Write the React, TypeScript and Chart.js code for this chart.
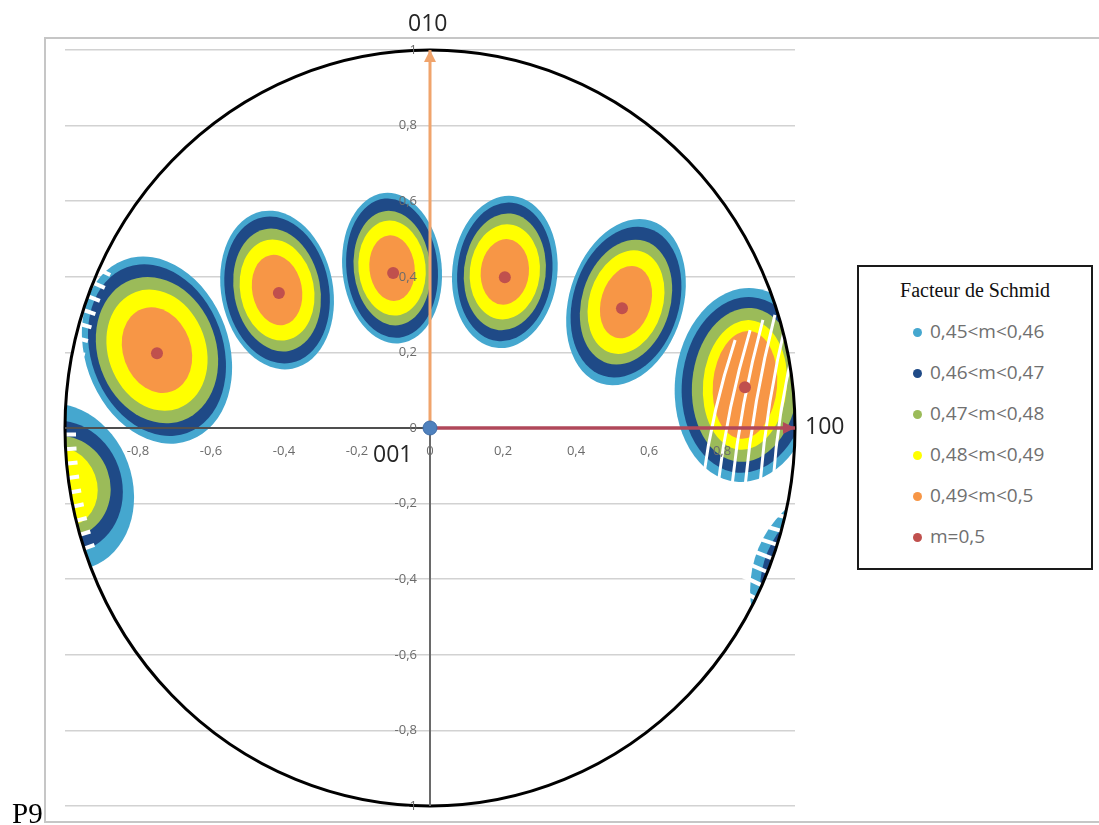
import React, { useEffect, useRef } from "react";
import { Chart, registerables } from "chart.js";

Chart.register(...registerables);

// ---- legend / contour levels ----
const levelLabels = ["0,45<m<0,46", "0,46<m<0,47", "0,47<m<0,48", "0,48<m<0,49", "0,49<m<0,5", "m=0,5"];
const levelColors = ["#45A7CF", "#1F4A87", "#9BBB59", "#FFFF00", "#F79646", "#C0504D"];

// ---- axis ----
const axisMin = -1;
const axisMax = 1;
const tickStep = 0.2;

// ---- pole contour centres (projection coordinates) ----
const poleCx = [-0.748, -0.419, -0.104, 0.205, 0.537, 0.863, -1.008, 1.178];
const poleCy = [0.206, 0.365, 0.423, 0.413, 0.333, 0.114, -0.156, -0.429];
const poleTiltDeg = [-20, -11, -6, 6, 17, 5, -20, 0];

// semi-axes (minor / major) of each contour level for each pole
const minor045 = [0.197, 0.153, 0.136, 0.144, 0.156, 0.192, 0.192, 0.301];
const major045 = [0.254, 0.212, 0.2, 0.202, 0.225, 0.257, 0.225, 0.291];
const minor046 = [0.181, 0.142, 0.125, 0.13, 0.145, 0.173, 0.164, 0.274];
const major046 = [0.233, 0.196, 0.185, 0.184, 0.204, 0.233, 0.178, 0.265];
const minor047 = [0.162, 0.118, 0.105, 0.112, 0.121, 0.145, 0.132, 0.247];
const major047 = [0.198, 0.164, 0.152, 0.155, 0.169, 0.204, 0.137, 0.238];
const minor048 = [0.134, 0.101, 0.092, 0.096, 0.101, 0.115, 0.096, 0.219];
const major048 = [0.164, 0.135, 0.126, 0.126, 0.14, 0.172, 0.106, 0.212];
const minor049 = [0.093, 0.068, 0.062, 0.066, 0.068, 0.088, 0.02, 0.192];
const major049 = [0.116, 0.094, 0.087, 0.087, 0.098, 0.143, 0.03, 0.185];

// maxima m = 0,5
const peakX = [-0.748, -0.414, -0.101, 0.205, 0.526, 0.863];
const peakY = [0.198, 0.357, 0.41, 0.399, 0.317, 0.108];

// sampling gaps in the pole near 100
const gapX1 = [0.836, 0.877, 0.912, 0.945, 0.978, 1.005];
const gapY1 = [0.233, 0.259, 0.286, 0.299, 0.291, 0.246];
const gapX2 = [0.748, 0.789, 0.827, 0.863, 0.904, 0.94];
const gapY2 = [-0.138, -0.151, -0.156, -0.156, -0.151, -0.143];

// sampling teeth along the projection circle (angles in degrees)
const teethFrom = [153, 181, -29];
const teethTo = [170, 199, -13];
const teethDepth = [0.035, 0.03, 0.06];

// direction arrows: [100], [010]
const dirX = [1, 0];
const dirY = [0, 1];
const dirColors = ["#B0485A", "#F0A46C"];

const fmt = (v: number) => String(Math.round(v * 10) / 10).replace(".", ",");

const polePlugin = {
  id: "poleFigure",
  beforeDatasetsDraw(chart: any) {
    const { ctx, scales } = chart;
    const xs = scales.x;
    const ys = scales.y;
    const ox = xs.getPixelForValue(0);
    const oy = ys.getPixelForValue(0);
    const ux = xs.getPixelForValue(1) - ox;
    const uy = oy - ys.getPixelForValue(1);
    const minors = [minor045, minor046, minor047, minor048, minor049];
    const majors = [major045, major046, major047, major048, major049];
    ctx.save();
    ctx.beginPath();
    ctx.ellipse(ox, oy, ux, uy, 0, 0, Math.PI * 2);
    ctx.clip();
    for (let p = 0; p < poleCx.length; p++) {
      const px = xs.getPixelForValue(poleCx[p]);
      const py = ys.getPixelForValue(poleCy[p]);
      for (let l = 0; l < 5; l++) {
        ctx.beginPath();
        ctx.ellipse(px, py, minors[l][p] * ux, majors[l][p] * uy, (poleTiltDeg[p] * Math.PI) / 180, 0, Math.PI * 2);
        ctx.fillStyle = levelColors[l];
        ctx.fill();
      }
    }
    ctx.strokeStyle = "#ffffff";
    ctx.lineWidth = 3;
    for (let i = 0; i < gapX1.length; i++) {
      const x1 = xs.getPixelForValue(gapX1[i]);
      const y1 = ys.getPixelForValue(gapY1[i]);
      const x2 = xs.getPixelForValue(gapX2[i]);
      const y2 = ys.getPixelForValue(gapY2[i]);
      ctx.beginPath();
      ctx.moveTo(x1, y1);
      ctx.quadraticCurveTo((x1 + x2) / 2 - 7, (y1 + y2) / 2, x2, y2);
      ctx.stroke();
    }
    ctx.lineWidth = 4;
    for (let r = 0; r < teethFrom.length; r++) {
      for (let a = teethFrom[r]; a <= teethTo[r]; a += 2.2) {
        const t = (a * Math.PI) / 180;
        const c = Math.cos(t);
        const s = Math.sin(t);
        const k = 1 - teethDepth[r];
        ctx.beginPath();
        ctx.moveTo(ox + ux * c * 1.01, oy - uy * s * 1.01);
        ctx.lineTo(ox + ux * c * k, oy - uy * s * k);
        ctx.stroke();
      }
    }
    ctx.restore();

    ctx.save();
    ctx.beginPath();
    ctx.ellipse(ox, oy, ux, uy, 0, 0, Math.PI * 2);
    ctx.lineWidth = 3;
    ctx.strokeStyle = "#000000";
    ctx.stroke();
    ctx.lineWidth = 2;
    ctx.strokeStyle = "#4f4f4f";
    ctx.beginPath();
    ctx.moveTo(xs.getPixelForValue(axisMin), oy);
    ctx.lineTo(xs.getPixelForValue(axisMax), oy);
    ctx.stroke();
    ctx.strokeStyle = "#6a6a6a";
    ctx.beginPath();
    ctx.moveTo(ox, ys.getPixelForValue(axisMin));
    ctx.lineTo(ox, ys.getPixelForValue(axisMax));
    ctx.stroke();
    ctx.restore();
  },
  afterDatasetsDraw(chart: any) {
    const { ctx, scales } = chart;
    const xs = scales.x;
    const ys = scales.y;
    for (let i = 0; i < dirX.length; i++) {
      const tx = xs.getPixelForValue(dirX[i]);
      const ty = ys.getPixelForValue(dirY[i]);
      const bx = xs.getPixelForValue(0);
      const by = ys.getPixelForValue(0);
      const ang = Math.atan2(ty - by, tx - bx);
      const len = 12;
      const hw = 6;
      ctx.save();
      ctx.fillStyle = dirColors[i];
      ctx.beginPath();
      ctx.moveTo(tx, ty);
      ctx.lineTo(tx - len * Math.cos(ang) - hw * Math.sin(ang), ty - len * Math.sin(ang) + hw * Math.cos(ang));
      ctx.lineTo(tx - len * Math.cos(ang) + hw * Math.sin(ang), ty - len * Math.sin(ang) - hw * Math.cos(ang));
      ctx.closePath();
      ctx.fill();
      ctx.restore();
    }
  },
};

export default function App() {
  const ref = useRef<HTMLCanvasElement>(null);

  useEffect(() => {
    const canvas = ref.current;
    if (!canvas) return;
    const tickFont = { family: "'Open Sans', sans-serif", size: 13 };
    const chart = new Chart(canvas, {
      type: "scatter",
      data: {
        datasets: [
          {
            label: "001",
            data: [{ x: 0, y: 0 }],
            pointRadius: 7,
            backgroundColor: "#4F81BD",
            borderColor: "#3E6DA8",
            borderWidth: 1,
            order: 0,
          },
          {
            label: levelLabels[5],
            data: peakX.map((x, i) => ({ x, y: peakY[i] })),
            pointRadius: 6,
            backgroundColor: levelColors[5],
            borderColor: levelColors[5],
            borderWidth: 0,
            order: 1,
          },
          {
            label: "100",
            data: [{ x: 0, y: 0 }, { x: dirX[0], y: dirY[0] }],
            showLine: true,
            borderColor: dirColors[0],
            borderWidth: 3.5,
            pointRadius: 0,
            order: 2,
          },
          {
            label: "010",
            data: [{ x: 0, y: 0 }, { x: dirX[1], y: dirY[1] }],
            showLine: true,
            borderColor: dirColors[1],
            borderWidth: 3,
            pointRadius: 0,
            order: 2,
          },
        ],
      },
      options: {
        animation: false,
        responsive: false,
        devicePixelRatio: 1,
        layout: { padding: { left: 65, right: 304, top: 50, bottom: 19 } },
        plugins: { legend: { display: false }, tooltip: { enabled: false } },
        scales: {
          x: {
            type: "linear",
            min: axisMin,
            max: axisMax,
            position: "center",
            grid: { display: false, drawTicks: false },
            border: { display: false },
            ticks: {
              stepSize: tickStep,
              z: 1,
              padding: 15,
              maxRotation: 0,
              color: "#6b6b6b",
              font: tickFont,
              callback: (v: any) => (Math.abs(Number(v)) >= 0.999 ? "" : fmt(Number(v))),
            },
          },
          y: {
            type: "linear",
            min: axisMin,
            max: axisMax,
            position: "center",
            grid: { color: "#d2d2d2", lineWidth: 1.5, drawTicks: true, tickLength: 13, tickColor: "rgba(0,0,0,0)" },
            border: { display: false },
            ticks: {
              stepSize: tickStep,
              z: 1,
              padding: 0,
              color: "#6b6b6b",
              font: tickFont,
              callback: (v: any) => fmt(Number(v)),
            },
          },
        },
      },
      plugins: [polePlugin],
    } as any);
    return () => chart.destroy();
  }, []);

  const sansLabel = {
    position: "absolute" as const,
    font: "23px 'Open Sans', sans-serif",
    lineHeight: "23px",
    color: "#262626",
    whiteSpace: "nowrap" as const,
  };

  return (
    <div style={{ position: "absolute", left: 0, top: 0, width: 1099, height: 825, overflow: "hidden", background: "#ffffff" }}>
      <div
        style={{
          position: "absolute",
          left: 44,
          top: 37,
          width: 1100,
          height: 786,
          boxSizing: "border-box",
          borderLeft: "2px solid #c6c6c6",
          borderTop: "2px solid #c6c6c6",
          borderBottom: "2px solid #c6c6c6",
        }}
      />
      <canvas ref={ref} width={1099} height={825} style={{ position: "absolute", left: 0, top: 0, width: 1099, height: 825 }} />
      <div style={{ ...sansLabel, left: 408, top: 11 }}>010</div>
      <div style={{ ...sansLabel, left: 805, top: 414 }}>100</div>
      <div style={{ ...sansLabel, left: 373, top: 442 }}>001</div>
      <div style={{ position: "absolute", left: 12, top: 799, font: "29px 'Liberation Serif', serif", lineHeight: "29px", color: "#000" }}>P9</div>
      <div
        style={{
          position: "absolute",
          left: 857,
          top: 265,
          width: 236,
          height: 305,
          boxSizing: "border-box",
          border: "2px solid #1a1a1a",
          background: "#ffffff",
        }}
      >
        <div
          style={{
            position: "absolute",
            left: 0,
            right: 0,
            top: 13,
            textAlign: "center",
            font: "20px 'Liberation Serif', serif",
            lineHeight: "20px",
            color: "#111",
          }}
        >
          Facteur de Schmid
        </div>
        {levelLabels.map((lab, i) => (
          <div key={lab} style={{ position: "absolute", left: 0, top: 65 + i * 41 - 10, height: 20, width: 230 }}>
            <span
              style={{
                position: "absolute",
                left: 54,
                top: 6,
                width: 9,
                height: 9,
                borderRadius: "50%",
                background: levelColors[i],
              }}
            />
            <span
              style={{
                position: "absolute",
                left: 71,
                top: 0,
                font: "19px 'Open Sans', sans-serif",
                lineHeight: "19px",
                color: "#707070",
                whiteSpace: "nowrap",
              }}
            >
              {lab}
            </span>
          </div>
        ))}
      </div>
    </div>
  );
}
